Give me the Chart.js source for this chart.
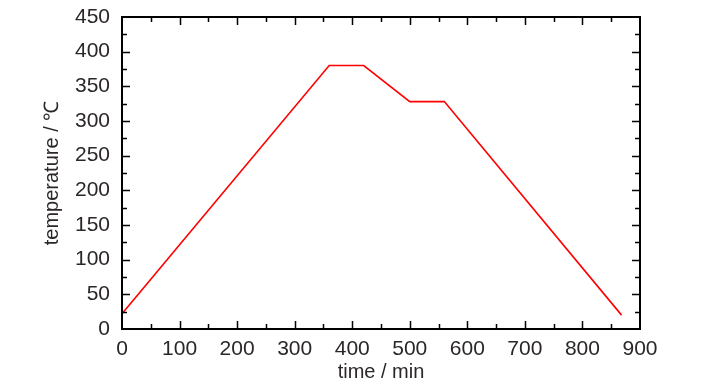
<!DOCTYPE html>
<html>
<head>
<meta charset="utf-8">
<script src="https://cdn.jsdelivr.net/npm/chart.js@4.4.0/dist/chart.umd.min.js"></script>
<style>
  html, body { margin: 0; padding: 0; background: #fff; }
  #wrap { width: 726px; height: 390px; position: relative; }
</style>
</head>
<body>
<div id="wrap"><canvas id="c"></canvas></div>
<script>
// temperature programme
const timeMin = [0, 360, 420, 500, 560, 868];
const tempC = [22, 380, 380, 328, 328, 20];

const xMajor = [0, 100, 200, 300, 400, 500, 600, 700, 800, 900];
const xMinor = [50, 150, 250, 350, 450, 550, 650, 750, 850];
const yMajor = [0, 50, 100, 150, 200, 250, 300, 350, 400, 450];
const yMinor = [25, 75, 125, 175, 225, 275, 325, 375, 425];

const textColor = '#2b2727';
const fontFam = '"Liberation Sans", Arial, sans-serif';

// ticks point into the plot, on all four sides
const frameTicks = {
    id: 'frameTicks',
    afterDraw(chart) {
        const { ctx, chartArea: a, scales } = chart;
        const x = scales.x, y = scales.y;
        ctx.save();
        ctx.strokeStyle = '#000';
        ctx.lineWidth = 2;
        ctx.strokeRect(a.left, a.top, a.right - a.left, a.bottom - a.top);
        const tick = (vals, len) => {
            vals.forEach(v => {
                const px = Math.round(x.getPixelForValue(v)) + 0.5;
                ctx.beginPath();
                ctx.moveTo(px, a.bottom); ctx.lineTo(px, a.bottom - len);
                ctx.moveTo(px, a.top); ctx.lineTo(px, a.top + len);
                ctx.stroke();
            });
        };
        const tickY = (vals, len) => {
            vals.forEach(v => {
                const py = Math.round(y.getPixelForValue(v)) + 0.5;
                ctx.beginPath();
                ctx.moveTo(a.left, py); ctx.lineTo(a.left + len, py);
                ctx.moveTo(a.right, py); ctx.lineTo(a.right - len, py);
                ctx.stroke();
            });
        };
        ctx.lineWidth = 1.5;
        tick(xMajor.slice(1, -1), 8);
        tick(xMinor, 5);
        tickY(yMajor.slice(1, -1), 8);
        tickY(yMinor, 5);
        ctx.restore();
    }
};

new Chart(document.getElementById('c'), {
    type: 'line',
    data: {
        datasets: [{
            data: timeMin.map((t, i) => ({ x: t, y: tempC[i] })),
            borderColor: '#ff0000',
            borderWidth: 1.6,
            pointRadius: 0,
            tension: 0,
            fill: false
        }]
    },
    options: {
        responsive: true,
        maintainAspectRatio: false,
        animation: false,
        layout: { padding: { left: 40, top: 17, right: 86, bottom: 6 } },
        plugins: { legend: { display: false }, tooltip: { enabled: false } },
        scales: {
            x: {
                type: 'linear',
                min: 0, max: 900,
                afterFit: s => { s.height = 55; s.paddingLeft = 0; s.paddingRight = 0; },
                afterBuildTicks: s => { s.ticks = xMajor.map(v => ({ value: v })); },
                grid: { display: false, drawTicks: false },
                border: { display: false },
                ticks: { color: textColor, font: { family: fontFam, size: 21 }, padding: 8, maxRotation: 0 },
                title: { display: true, text: 'time / min', color: textColor, font: { family: fontFam, size: 20 }, padding: { top: 0, bottom: 0 } }
            },
            y: {
                min: 0, max: 450,
                afterFit: s => { s.width = 82; s.paddingTop = 0; s.paddingBottom = 0; },
                afterBuildTicks: s => { s.ticks = yMajor.map(v => ({ value: v })); },
                grid: { display: false, drawTicks: false },
                border: { display: false },
                ticks: { color: textColor, font: { family: fontFam, size: 21 }, padding: 12 },
                title: { display: true, text: 'temperature / ℃', color: textColor, font: { family: fontFam, size: 20 }, padding: { top: 0, bottom: 0 } }
            }
        }
    },
    plugins: [frameTicks]
});
</script>
</body>
</html>
